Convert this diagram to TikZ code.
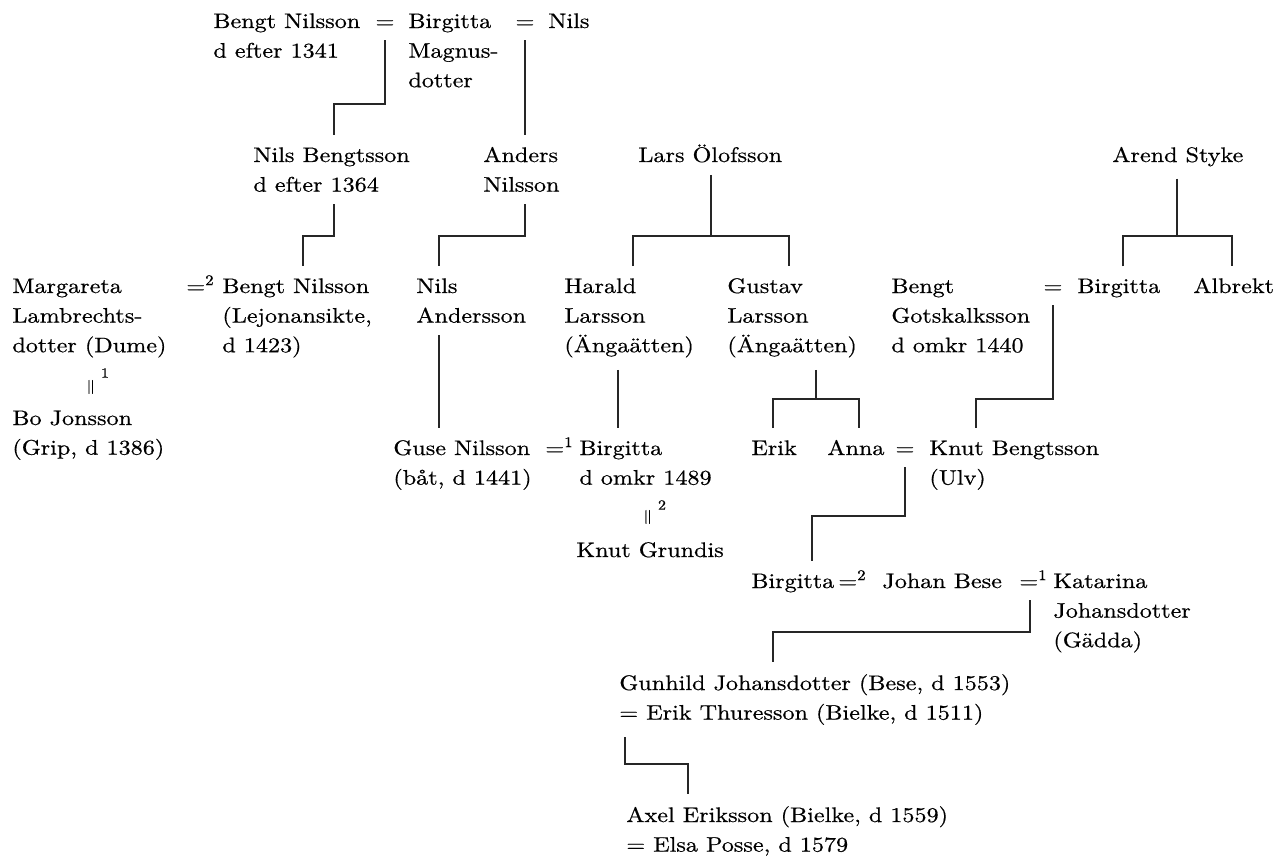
\documentclass[tikz,border=0pt]{standalone}
\usepackage{fontspec}
\setmainfont{lmroman10-regular.otf}[FakeStretch=1.15, FakeBold=0.6]
\usetikzlibrary{positioning}

\begin{document}
\begin{tikzpicture}[x=0.5pt, y=-0.5pt,
    font=\fontsize{10.5}{14.8}\selectfont,
    person/.style={anchor=base west, align=left, inner xsep=0pt, inner ysep=6pt},
    wed/.style={anchor=base, inner xsep=0pt, inner ysep=6pt},
    wedsup/.style={anchor=base west, inner xsep=0pt, inner ysep=6pt},
    wedup/.style={rotate=90, inner sep=0pt, font=\small},
    num/.style={inner sep=0pt, font=\scriptsize},
    tie/.style={line width=0.65pt, black!85}]
\useasboundingbox (0,0) rectangle (1276,856);

% nodes sit on the baseline of their last line
% first generation
\node[person] (bengtA) at (213, 57.6) {Bengt Nilsson\\d efter 1341};
\node[wed] (eqA) at (385, 28) {=};
\node[person] (birgA) at (408, 87.2) {Birgitta\\Magnus-\\dotter};
\node[wed] (eqB) at (525, 28) {=};
\node[person] (nilsA) at (548, 28) {Nils};

% second row
\node[person] (nilsB) at (253, 191.6) {Nils Bengtsson\\d efter 1364};
\node[person] (anders) at (483, 191.6) {Anders\\Nilsson};
\node[person] (lars) at (638, 162) {Lars Ölofsson};
\node[person] (arend) at (1112, 162) {Arend Styke};

% third row
\node[person] (marg) at (12, 352.2) {Margareta\\Lambrechts-\\dotter (Dume)};
\node[wedsup] (eqC) at (186, 293) {=\textsuperscript{2}};
\node[person] (bengtB) at (222, 352.2) {Bengt Nilsson\\(Lejonansikte,\\d 1423)};
\node[person] (nilsC) at (416, 322.6) {Nils\\Andersson};
\node[person] (harald) at (564, 352.2) {Harald\\Larsson\\(Ängaätten)};
\node[person] (gustav) at (727, 352.2) {Gustav\\Larsson\\(Ängaätten)};
\node[person] (bengtC) at (891, 352.2) {Bengt\\Gotskalksson\\d omkr 1440};
\node[wed] (eqD) at (1053, 293) {=};
\node[person] (birgB) at (1077, 293) {Birgitta};
\node[person] (albrekt) at (1193, 293) {Albrekt};

\node[wedup] (eqM) at (92, 387) {=};
\node[num] (eqMn) at (105, 373) {1};
\node[person] (bo) at (12, 454.6) {Bo Jonsson\\(Grip, d 1386)};

% fourth row
\node[person] (guse) at (393, 484.6) {Guse Nilsson\\(båt, d 1441)};
\node[wedsup] (eqE) at (545, 455) {=\textsuperscript{1}};
\node[person] (birgC) at (579, 484.6) {Birgitta\\d omkr 1489};
\node[wedup] (eqK) at (649, 517) {=};
\node[num] (eqKn) at (662, 505) {2};
\node[person] (knutG) at (576, 557) {Knut Grundis};
\node[person] (erik) at (751, 455) {Erik};
\node[person] (anna) at (827, 455) {Anna};
\node[wed] (eqF) at (905, 455) {=};
\node[person] (knutB) at (929, 484.6) {Knut Bengtsson\\(Ulv)};

% fifth row
\node[person] (birgD) at (751, 588) {Birgitta};
\node[wedsup] (eqG) at (838, 588) {=\textsuperscript{2}};
\node[person] (johan) at (882, 588) {Johan Bese};
\node[wedsup] (eqH) at (1019, 588) {=\textsuperscript{1}};
\node[person] (katarina) at (1053, 647.2) {Katarina\\Johansdotter\\(Gädda)};

\node[person] (gunhild) at (619, 719.6) {Gunhild Johansdotter (Bese, d 1553)\\= Erik Thuresson (Bielke, d 1511)};
\node[person] (axel) at (626, 851.6) {Axel Eriksson (Bielke, d 1559)\\= Elsa Posse, d 1579};

% lines of descent
\draw[tie] (eqA.south) |- (334,104) -- (nilsB.north -| 334,0);
\draw[tie] (eqB.south) -- (anders.north -| eqB.south);
\draw[tie] (nilsB.south -| 334,0) |- (303,236) -- (bengtB.north -| 303,0);
\draw[tie] (anders.south -| 525,0) |- (439,236) -- (nilsC.north -| 439,0);
\draw[tie] (lars.south -| 711,0) -- (711,236)
           (harald.north -| 633,0) |- (789,236) -- (gustav.north -| 789,0);
\draw[tie] (arend.south -| 1177,0) -- (1177,236)
           (birgB.north -| 1123,0) |- (1232,236) -- (albrekt.north -| 1232,0);
\draw[tie] (nilsC.south -| 439,0) -- (guse.north -| 439,0);
\draw[tie] (harald.south -| 618,0) -- (birgC.north -| 618,0);
\draw[tie] (gustav.south -| 816,0) -- (816,399)
           (erik.north -| 773,0) |- (859,399) -- (anna.north -| 859,0);
\draw[tie] (eqD.south) |- (976,399) -- (knutB.north -| 976,0);
\draw[tie] (eqF.south) |- (812,516) -- (birgD.north -| 812,0);
\draw[tie] (eqH.south -| 1030,0) |- (773,632) -- (gunhild.north -| 773,0);
\draw[tie] (gunhild.south -| 625,0) |- (688,764) -- (axel.north -| 688,0);
\end{tikzpicture}
\end{document}
